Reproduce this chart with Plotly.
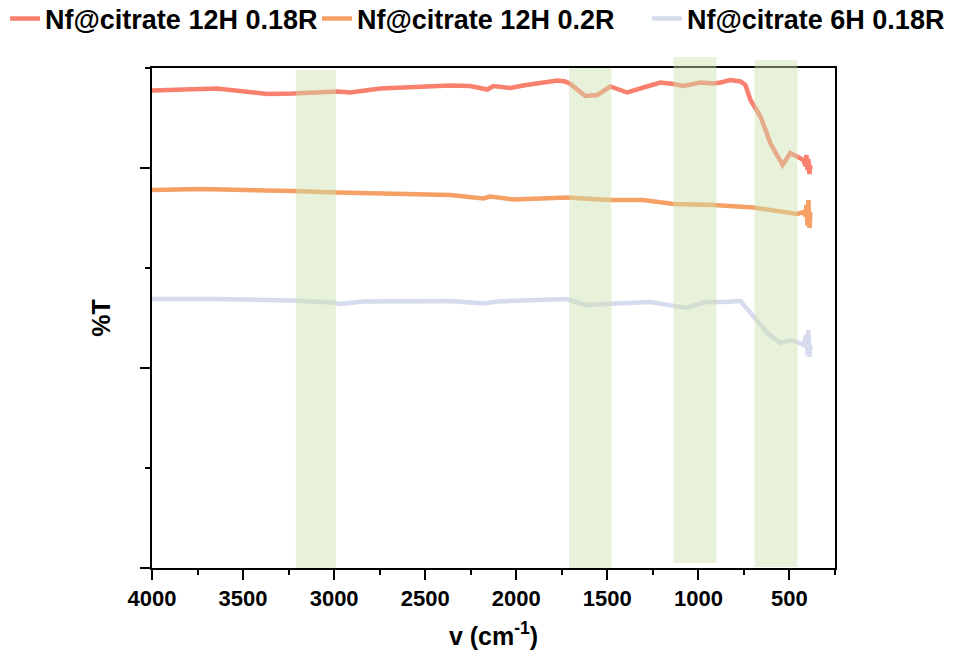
import plotly.graph_objects as go

# ---- data ----
red_wn = [4000, 3643, 3368, 3225, 2984, 2912, 2747, 2363, 2253, 2159, 2126, 2033, 1962, 1775, 1731,
          1703, 1621, 1555, 1484, 1390, 1302, 1209, 1137, 1082, 989, 918, 879, 824, 769, 742, 714,
          659, 604, 538, 495, 456, 423, 412, 407, 401, 396, 390, 385]
red_t = [95.5, 95.9, 94.8, 94.9, 95.3, 95.1, 95.9, 96.5, 96.4, 95.7, 96.4, 96.0, 96.5, 97.5, 97.3,
         96.8, 94.4, 94.6, 96.3, 95.1, 96.1, 97.1, 96.8, 96.4, 97.1, 96.9, 97.1, 97.6, 97.3, 96.6, 93.6,
         90.3, 84.9, 80.6, 83.0, 82.2, 81.6, 80.4, 82.6, 79.6, 81.8, 78.8, 80.6]

orange_wn = [4000, 3736, 3225, 2984, 2363, 2198, 2181, 2143, 2016, 1720, 1484, 1302, 1137, 918, 698,
             456, 423, 412, 407, 401, 396, 390, 385]
orange_t = [75.6, 75.8, 75.4, 75.1, 74.6, 74.1, 73.9, 74.3, 73.7, 74.1, 73.6, 73.6, 72.8, 72.6, 72.1,
            70.8, 71.2, 70.4, 72.6, 68.4, 73.6, 68.0, 71.2]

lav_wn = [4000, 3643, 3225, 3005, 2967, 2841, 2363, 2181, 2104, 1725, 1621, 1429, 1264, 1066, 962,
          868, 769, 714, 621, 549, 495, 456, 423, 407, 401, 396, 390, 385]
lav_t = [53.8, 53.8, 53.5, 53.1, 52.8, 53.3, 53.4, 52.9, 53.3, 53.8, 52.6, 53.0, 53.2, 52.0, 53.2,
         53.2, 53.4, 51.0, 47.0, 45.0, 45.6, 45.2, 44.6, 46.6, 42.6, 47.6, 42.2, 44.6]

names = ["Nf@citrate 12H 0.18R", "Nf@citrate 12H 0.2R", "Nf@citrate 6H 0.18R"]
colors = ["#F9806F", "#F5A065", "#D6DCEE"]

band_lo = [2990, 1478, 901, 456]
band_hi = [3210, 1709, 1137, 692]
band_top = [0.996, 1.0, 1.022, 1.016]
band_bot = [0.0, 0.0, 0.01, 0.002]

x_ticks = [4000, 3500, 3000, 2500, 2000, 1500, 1000, 500]

FONT = "Liberation Sans, Arial, sans-serif"

legend_ids = ["legend", "legend2", "legend3"]
legend_x = [-0.2152, 0.2416, 0.7247]

fig = go.Figure()
for wn, t, nm, c, lg in zip([red_wn, orange_wn, lav_wn], [red_t, orange_t, lav_t], names, colors, legend_ids):
    fig.add_trace(go.Scatter(x=wn, y=t, mode="lines", name=nm, legend=lg,
                             line=dict(color=c, width=4.5)))

for lo, hi, top, bot in zip(band_lo, band_hi, band_top, band_bot):
    fig.add_shape(type="rect", xref="x", yref="paper", x0=lo, x1=hi, y0=bot, y1=top,
                  fillcolor="rgb(205,225,170)", opacity=0.45, line=dict(width=0), layer="above")

legend_style = dict(orientation="h", xanchor="left", y=1.098, yanchor="middle",
                    font=dict(size=27, family=FONT, weight="bold", color="black"),
                    itemwidth=30, bgcolor="rgba(0,0,0,0)")

fig.update_layout(
    width=967, height=650,
    margin=dict(l=152, r=132, t=68, b=82, autoexpand=False),
    plot_bgcolor="white", paper_bgcolor="white",
    font=dict(family=FONT, color="black"),
    showlegend=True,
    legend=dict(x=legend_x[0], **legend_style),
    legend2=dict(x=legend_x[1], **legend_style),
    legend3=dict(x=legend_x[2], **legend_style),
    xaxis=dict(range=[4000, 250], tickvals=x_ticks, ticks="outside", ticklen=10, tickwidth=2,
               tickcolor="black", showline=True, linecolor="black", linewidth=2, mirror=True,
               showgrid=False, zeroline=False, automargin=False, ticklabelstandoff=0,
               tickfont=dict(size=22, family=FONT, weight="bold"),
               minor=dict(dtick=250, tick0=0, ticks="outside", ticklen=5, tickwidth=2, tickcolor="black"),
               title=dict(text="v (cm<sup>-1</sup>)", font=dict(size=25, family=FONT, weight="bold"),
                          standoff=18)),
    yaxis=dict(range=[0, 100], tickvals=[0, 40, 80], showticklabels=False, ticks="outside",
               ticklen=10, tickwidth=2, tickcolor="black", showline=True, linecolor="black",
               linewidth=2, mirror=True, showgrid=False, zeroline=False, automargin=False,
               minor=dict(dtick=20, tick0=0, ticks="outside", ticklen=5, tickwidth=2, tickcolor="black"),
               title=dict(text="%T", font=dict(size=25, family=FONT, weight="bold"), standoff=22)),
)

fig.write_html("out.html")
